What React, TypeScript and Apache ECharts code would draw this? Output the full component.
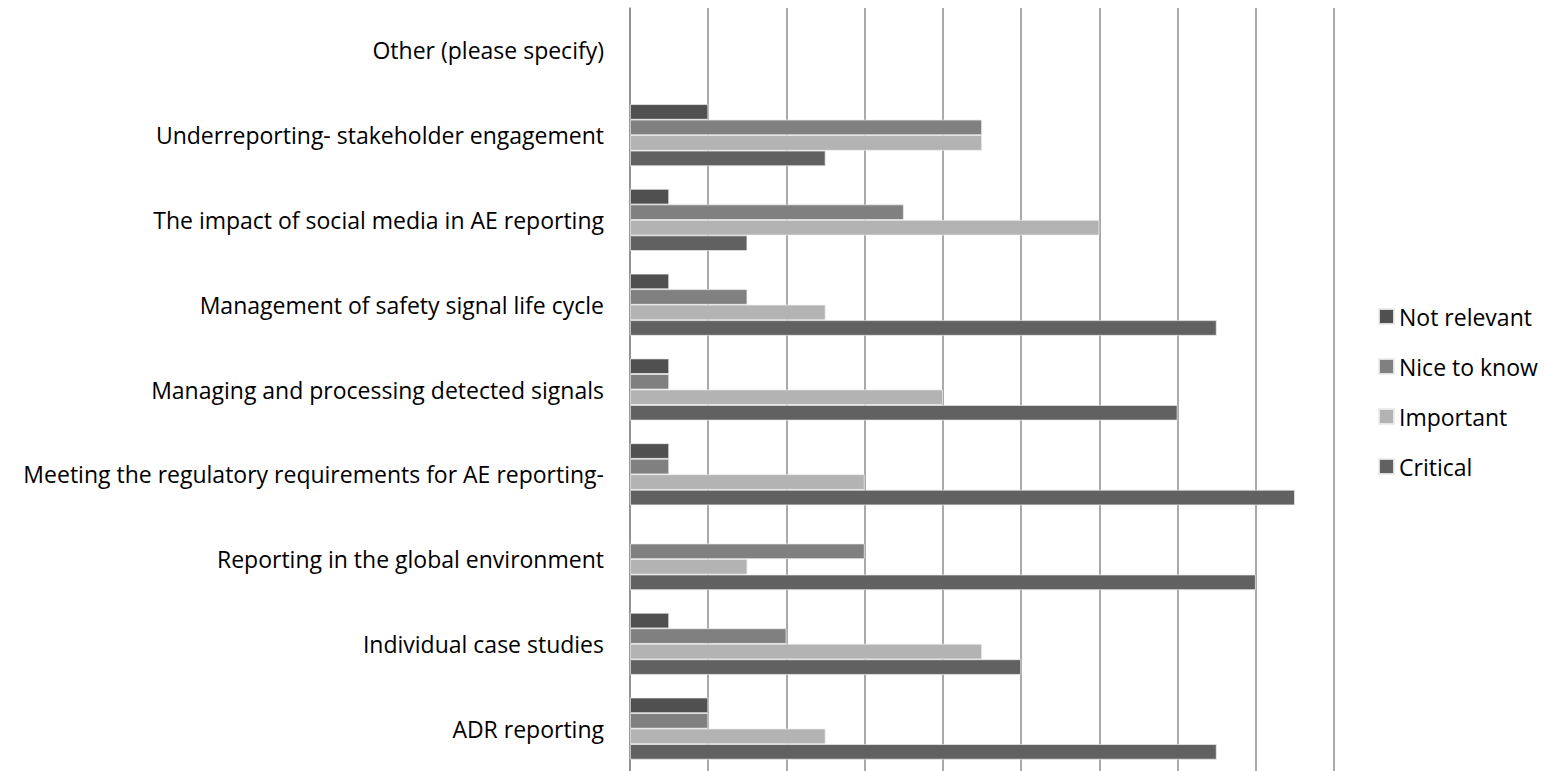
import React, { useEffect, useRef } from "react";
import * as echarts from "echarts";

// Topics, listed bottom-to-top as they appear on the category axis
const topics = [
  "ADR reporting",
  "Individual case studies",
  "Reporting in the global environment",
  "Meeting the regulatory requirements for AE reporting-",
  "Managing and processing detected signals",
  "Management of safety signal life cycle",
  "The impact of social media in AE reporting",
  "Underreporting- stakeholder engagement",
  "Other (please specify)",
];

// Response counts per topic (same order as topics)
const notRelevant = [2, 1, 0, 1, 1, 1, 1, 2, 0];
const niceToKnow = [2, 4, 6, 1, 1, 3, 7, 9, 0];
const important = [5, 9, 3, 6, 8, 5, 12, 9, 0];
const critical = [15, 10, 16, 17, 14, 15, 3, 5, 0];

const legendOrder = ["Not relevant", "Nice to know", "Important", "Critical"];

const FONT = "'Open Sans', Lato, sans-serif";

export default function App() {
  const ref = useRef<HTMLDivElement>(null);

  useEffect(() => {
    if (!ref.current) return;
    const chart = echarts.init(ref.current, undefined, { renderer: "svg" });

    // Empty bars get no outline so they don't paint over the axis line
    const toItems = (values: number[]) =>
      values.map((v) =>
        v === 0 ? { value: 0, itemStyle: { borderWidth: 0, opacity: 0 } } : v
      );

    // Series listed top-down within each group
    const seriesDefs = [
      { name: "Not relevant", data: notRelevant, color: "#505050" },
      { name: "Nice to know", data: niceToKnow, color: "#808080" },
      { name: "Important", data: important, color: "#b3b3b3" },
      { name: "Critical", data: critical, color: "#616161" },
    ];

    chart.setOption({
      animation: false,
      backgroundColor: "#ffffff",
      textStyle: { fontFamily: FONT },
      grid: { left: 630, right: 213, top: 8, bottom: -1, containLabel: false },
      legend: {
        orient: "vertical",
        left: 1373,
        top: 300,
        itemWidth: 15,
        itemHeight: 15,
        itemGap: 27,
        icon: "rect",
        data: legendOrder,
        textStyle: {
          fontFamily: FONT,
          fontSize: 23,
          lineHeight: 22,
          color: "#000000",
        },
      },
      xAxis: {
        type: "value",
        min: 0,
        max: 18,
        interval: 2,
        axisLabel: { show: false },
        axisLine: { show: false },
        axisTick: { show: false },
        splitLine: { show: true, lineStyle: { color: "#8c8c8c", width: 1.5 } },
      },
      yAxis: {
        type: "category",
        data: topics,
        axisLine: { show: true, lineStyle: { color: "#8c8c8c", width: 1.5 } },
        axisTick: { show: false },
        axisLabel: {
          fontFamily: FONT,
          fontSize: 23,
          color: "#000000",
          margin: 26,
        },
      },
      series: seriesDefs.map((s) => ({
        name: s.name,
        type: "bar",
        data: toItems(s.data),
        barWidth: 15.5,
        barGap: "0%",
        itemStyle: {
          color: s.color,
          borderColor: "rgba(235,235,235,0.9)",
          borderWidth: 0.8,
        },
      })),
    });

    return () => chart.dispose();
  }, []);

  return (
    <div
      ref={ref}
      style={{ position: "fixed", left: 0, top: 0, width: 1547, height: 771 }}
    />
  );
}
